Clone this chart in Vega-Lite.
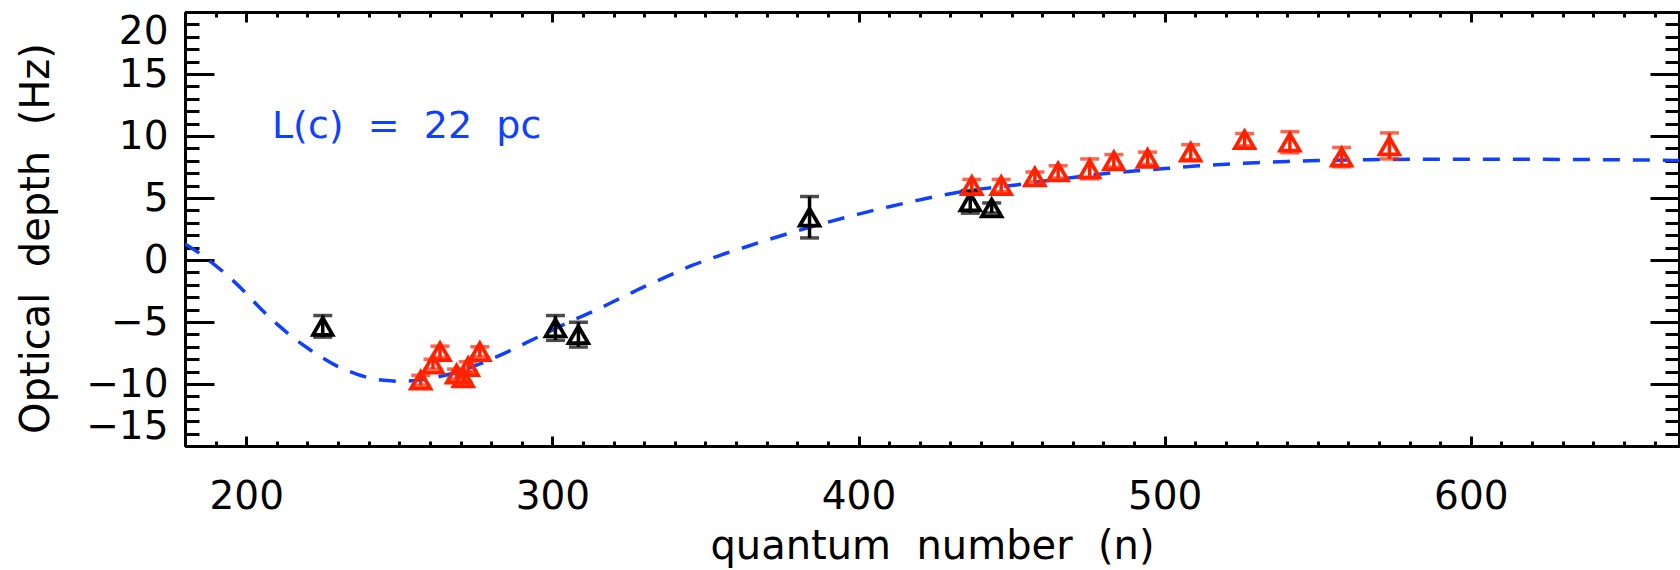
{
  "$schema": "https://vega.github.io/schema/vega-lite/v6.json",
  "autosize": {"type": "none"},
  "padding": {"left": 185, "top": 12, "right": 1, "bottom": 124},
  "width": 1494,
  "height": 434,
  "background": "white",
  "config": {"view": {"stroke": null}, "font": "DejaVu Sans"},
  "datasets": {
    "curve": [
      {"n": 180, "y": 1.3}, {"n": 185, "y": 0.5}, {"n": 190, "y": -0.45}, {"n": 195, "y": -1.5},
      {"n": 200, "y": -2.7}, {"n": 205, "y": -4.0}, {"n": 210, "y": -5.15}, {"n": 215, "y": -6.2},
      {"n": 220, "y": -7.1}, {"n": 225, "y": -7.9}, {"n": 230, "y": -8.6}, {"n": 235, "y": -9.1},
      {"n": 240, "y": -9.5}, {"n": 245, "y": -9.7}, {"n": 250, "y": -9.78}, {"n": 255, "y": -9.72},
      {"n": 260, "y": -9.55}, {"n": 265, "y": -9.3}, {"n": 270, "y": -8.95}, {"n": 275, "y": -8.5},
      {"n": 280, "y": -8.0}, {"n": 285, "y": -7.45}, {"n": 290, "y": -6.85}, {"n": 295, "y": -6.25},
      {"n": 300, "y": -5.65}, {"n": 305, "y": -5.05}, {"n": 310, "y": -4.5}, {"n": 315, "y": -3.95},
      {"n": 320, "y": -3.35}, {"n": 325, "y": -2.75}, {"n": 330, "y": -2.15}, {"n": 335, "y": -1.6},
      {"n": 340, "y": -1.05}, {"n": 345, "y": -0.5}, {"n": 350, "y": -0.05}, {"n": 355, "y": 0.4},
      {"n": 360, "y": 0.8}, {"n": 370, "y": 1.6}, {"n": 380, "y": 2.35}, {"n": 390, "y": 3.05},
      {"n": 400, "y": 3.7}, {"n": 410, "y": 4.3}, {"n": 420, "y": 4.85}, {"n": 430, "y": 5.35},
      {"n": 440, "y": 5.72}, {"n": 450, "y": 6.0}, {"n": 460, "y": 6.35}, {"n": 470, "y": 6.65},
      {"n": 480, "y": 6.95}, {"n": 490, "y": 7.18}, {"n": 500, "y": 7.37}, {"n": 510, "y": 7.58},
      {"n": 520, "y": 7.72}, {"n": 530, "y": 7.85}, {"n": 540, "y": 7.95}, {"n": 550, "y": 8.02},
      {"n": 560, "y": 8.07}, {"n": 570, "y": 8.1}, {"n": 580, "y": 8.12}, {"n": 600, "y": 8.13},
      {"n": 620, "y": 8.12}, {"n": 640, "y": 8.1}, {"n": 660, "y": 8.05}, {"n": 668, "y": 8.02}
    ],
    "obs": [
      {"n": 225, "y": -5.35, "err": 0.87, "group": "black"},
      {"n": 301, "y": -5.48, "err": 1.0, "group": "black"},
      {"n": 308.5, "y": -6.02, "err": 1.0, "group": "black"},
      {"n": 384, "y": 3.45, "err": 1.67, "group": "black"},
      {"n": 436.5, "y": 4.69, "err": 0.91, "group": "black"},
      {"n": 443.5, "y": 4.2, "err": 0.4, "group": "black"},
      {"n": 257, "y": -9.7, "err": 0.4, "group": "red"},
      {"n": 261, "y": -8.4, "err": 0.4, "group": "red"},
      {"n": 263.3, "y": -7.4, "err": 0.45, "group": "red"},
      {"n": 268.7, "y": -9.2, "err": 0.4, "group": "red"},
      {"n": 270.9, "y": -9.5, "err": 0.4, "group": "red"},
      {"n": 272.5, "y": -8.6, "err": 0.4, "group": "red"},
      {"n": 276.3, "y": -7.4, "err": 0.4, "group": "red"},
      {"n": 437, "y": 6.0, "err": 0.5, "group": "red"},
      {"n": 446.6, "y": 6.0, "err": 0.5, "group": "red"},
      {"n": 457.6, "y": 6.7, "err": 0.4, "group": "red"},
      {"n": 465.2, "y": 7.1, "err": 0.5, "group": "red"},
      {"n": 475.5, "y": 7.35, "err": 0.8, "group": "red"},
      {"n": 483.4, "y": 8.0, "err": 0.5, "group": "red"},
      {"n": 494.4, "y": 8.2, "err": 0.5, "group": "red"},
      {"n": 508.5, "y": 8.7, "err": 0.6, "group": "red"},
      {"n": 526.1, "y": 9.7, "err": 0.5, "group": "red"},
      {"n": 540.9, "y": 9.5, "err": 0.85, "group": "red"},
      {"n": 557.8, "y": 8.3, "err": 0.78, "group": "red"},
      {"n": 573.4, "y": 9.2, "err": 1.05, "group": "red"}
    ],
    "note": [
      {"n": 208.4, "y": 9.84, "label": "L(c)\u00a0\u00a0=\u00a0\u00a022\u00a0\u00a0pc"}
    ]
  },
  "resolve": {"axis": {"x": "independent", "y": "independent"}},
  "layer": [
    {
      "data": {"name": "curve"},
      "mark": {"type": "line", "color": "#1040ff", "strokeWidth": 3.5, "strokeDash": [17, 13], "interpolate": "monotone", "clip": true},
      "encoding": {
        "x": {"field": "n", "type": "quantitative",
          "scale": {"domain": [180, 668], "nice": false, "zero": false},
          "axis": {"orient": "bottom", "values": [200, 300, 400, 500, 600], "grid": false,
            "tickSize": -10, "tickWidth": 3, "tickColor": "black", "domainColor": "black", "domainWidth": 3,
            "labelFont": "DejaVu Sans", "labelFontSize": 39, "labelColor": "black", "labelPadding": 72,
            "labelBaseline": "alphabetic", "labelAngle": 0, "labelFlush": false, "labelOverlap": false,
            "title": "quantum\u00a0 number\u00a0 (n)", "titleFont": "DejaVu Sans", "titleFontSize": 40,
            "titleFontWeight": "normal", "titleColor": "black", "titleBaseline": "alphabetic", "titleY": 112}},
        "y": {"field": "y", "type": "quantitative",
          "scale": {"domain": [-15, 20], "nice": false, "zero": false},
          "axis": {"orient": "left", "values": [-15, -10, -5, 0, 5, 10, 15, 20], "grid": false,
            "tickSize": -29, "tickWidth": 3, "tickColor": "black", "domainColor": "black", "domainWidth": 3,
            "labelFont": "DejaVu Sans", "labelFontSize": 39, "labelColor": "black", "labelPadding": 46,
            "labelFlush": true, "labelOverlap": false,
            "title": "Optical\u00a0 depth\u00a0 (Hz)", "titleFont": "DejaVu Sans", "titleFontSize": 40,
            "titleFontWeight": "normal", "titleColor": "black", "titleBaseline": "alphabetic",
            "titleX": -137, "titleY": 226}}
      }
    },
    {
      "data": {"name": "obs"},
      "mark": {"type": "errorbar", "ticks": {"size": 19}, "thickness": 3.5},
      "encoding": {
        "x": {"field": "n", "type": "quantitative",
          "scale": {"domain": [180, 668], "nice": false, "zero": false},
          "axis": {"orient": "bottom", "values": [180, 190, 210, 220, 230, 240, 250, 260, 270, 280, 290, 310, 320, 330, 340, 350, 360, 370, 380, 390, 410, 420, 430, 440, 450, 460, 470, 480, 490, 510, 520, 530, 540, 550, 560, 570, 580, 590, 610, 620, 630, 640, 650, 660],
            "grid": false, "tickSize": -5, "tickWidth": 3, "tickColor": "black", "domainColor": "black", "domainWidth": 3,
            "labels": false, "title": null}},
        "y": {"field": "y", "type": "quantitative",
          "scale": {"domain": [-15, 20], "nice": false, "zero": false},
          "axis": {"orient": "left", "values": [-14, -13, -12, -11, -9, -8, -7, -6, -4, -3, -2, -1, 1, 2, 3, 4, 6, 7, 8, 9, 11, 12, 13, 14, 16, 17, 18, 19],
            "grid": false, "tickSize": -14, "tickWidth": 3, "tickColor": "black", "domainColor": "black", "domainWidth": 3,
            "labels": false, "title": null}},
        "yError": {"field": "err"},
        "color": {"field": "group", "type": "nominal", "scale": {"domain": ["black", "red"], "range": ["#000000", "#ff2200"]}, "legend": null}
      }
    },
    {
      "data": {"name": "obs"},
      "mark": {"type": "point", "shape": "triangle-up", "filled": false, "strokeWidth": 3.8, "size": 380, "opacity": 1},
      "encoding": {
        "x": {"field": "n", "type": "quantitative",
          "scale": {"domain": [180, 668], "nice": false, "zero": false},
          "axis": {"orient": "top", "values": [200, 300, 400, 500, 600], "grid": false,
            "tickSize": -10, "tickWidth": 3, "tickColor": "black", "domainColor": "black", "domainWidth": 3,
            "labels": false, "title": null}},
        "y": {"field": "y", "type": "quantitative",
          "scale": {"domain": [-15, 20], "nice": false, "zero": false},
          "axis": {"orient": "right", "values": [-15, -10, -5, 0, 5, 10, 15, 20], "grid": false,
            "tickSize": -29, "tickWidth": 3, "tickColor": "black", "domainColor": "black", "domainWidth": 3,
            "labels": false, "title": null}},
        "color": {"field": "group", "type": "nominal", "scale": {"domain": ["black", "red"], "range": ["#000000", "#ff2200"]}, "legend": null}
      }
    },
    {
      "data": {"name": "note"},
      "mark": {"type": "text", "font": "DejaVu Sans", "fontSize": 38, "color": "#1040ff", "align": "left", "baseline": "alphabetic"},
      "encoding": {
        "text": {"field": "label"},
        "x": {"field": "n", "type": "quantitative",
          "scale": {"domain": [180, 668], "nice": false, "zero": false},
          "axis": {"orient": "top", "values": [180, 190, 210, 220, 230, 240, 250, 260, 270, 280, 290, 310, 320, 330, 340, 350, 360, 370, 380, 390, 410, 420, 430, 440, 450, 460, 470, 480, 490, 510, 520, 530, 540, 550, 560, 570, 580, 590, 610, 620, 630, 640, 650, 660],
            "grid": false, "tickSize": -5, "tickWidth": 3, "tickColor": "black", "domainColor": "black", "domainWidth": 3,
            "labels": false, "title": null}},
        "y": {"field": "y", "type": "quantitative",
          "scale": {"domain": [-15, 20], "nice": false, "zero": false},
          "axis": {"orient": "right", "values": [-14, -13, -12, -11, -9, -8, -7, -6, -4, -3, -2, -1, 1, 2, 3, 4, 6, 7, 8, 9, 11, 12, 13, 14, 16, 17, 18, 19],
            "grid": false, "tickSize": -14, "tickWidth": 3, "tickColor": "black", "domainColor": "black", "domainWidth": 3,
            "labels": false, "title": null}}
      }
    }
  ]
}
